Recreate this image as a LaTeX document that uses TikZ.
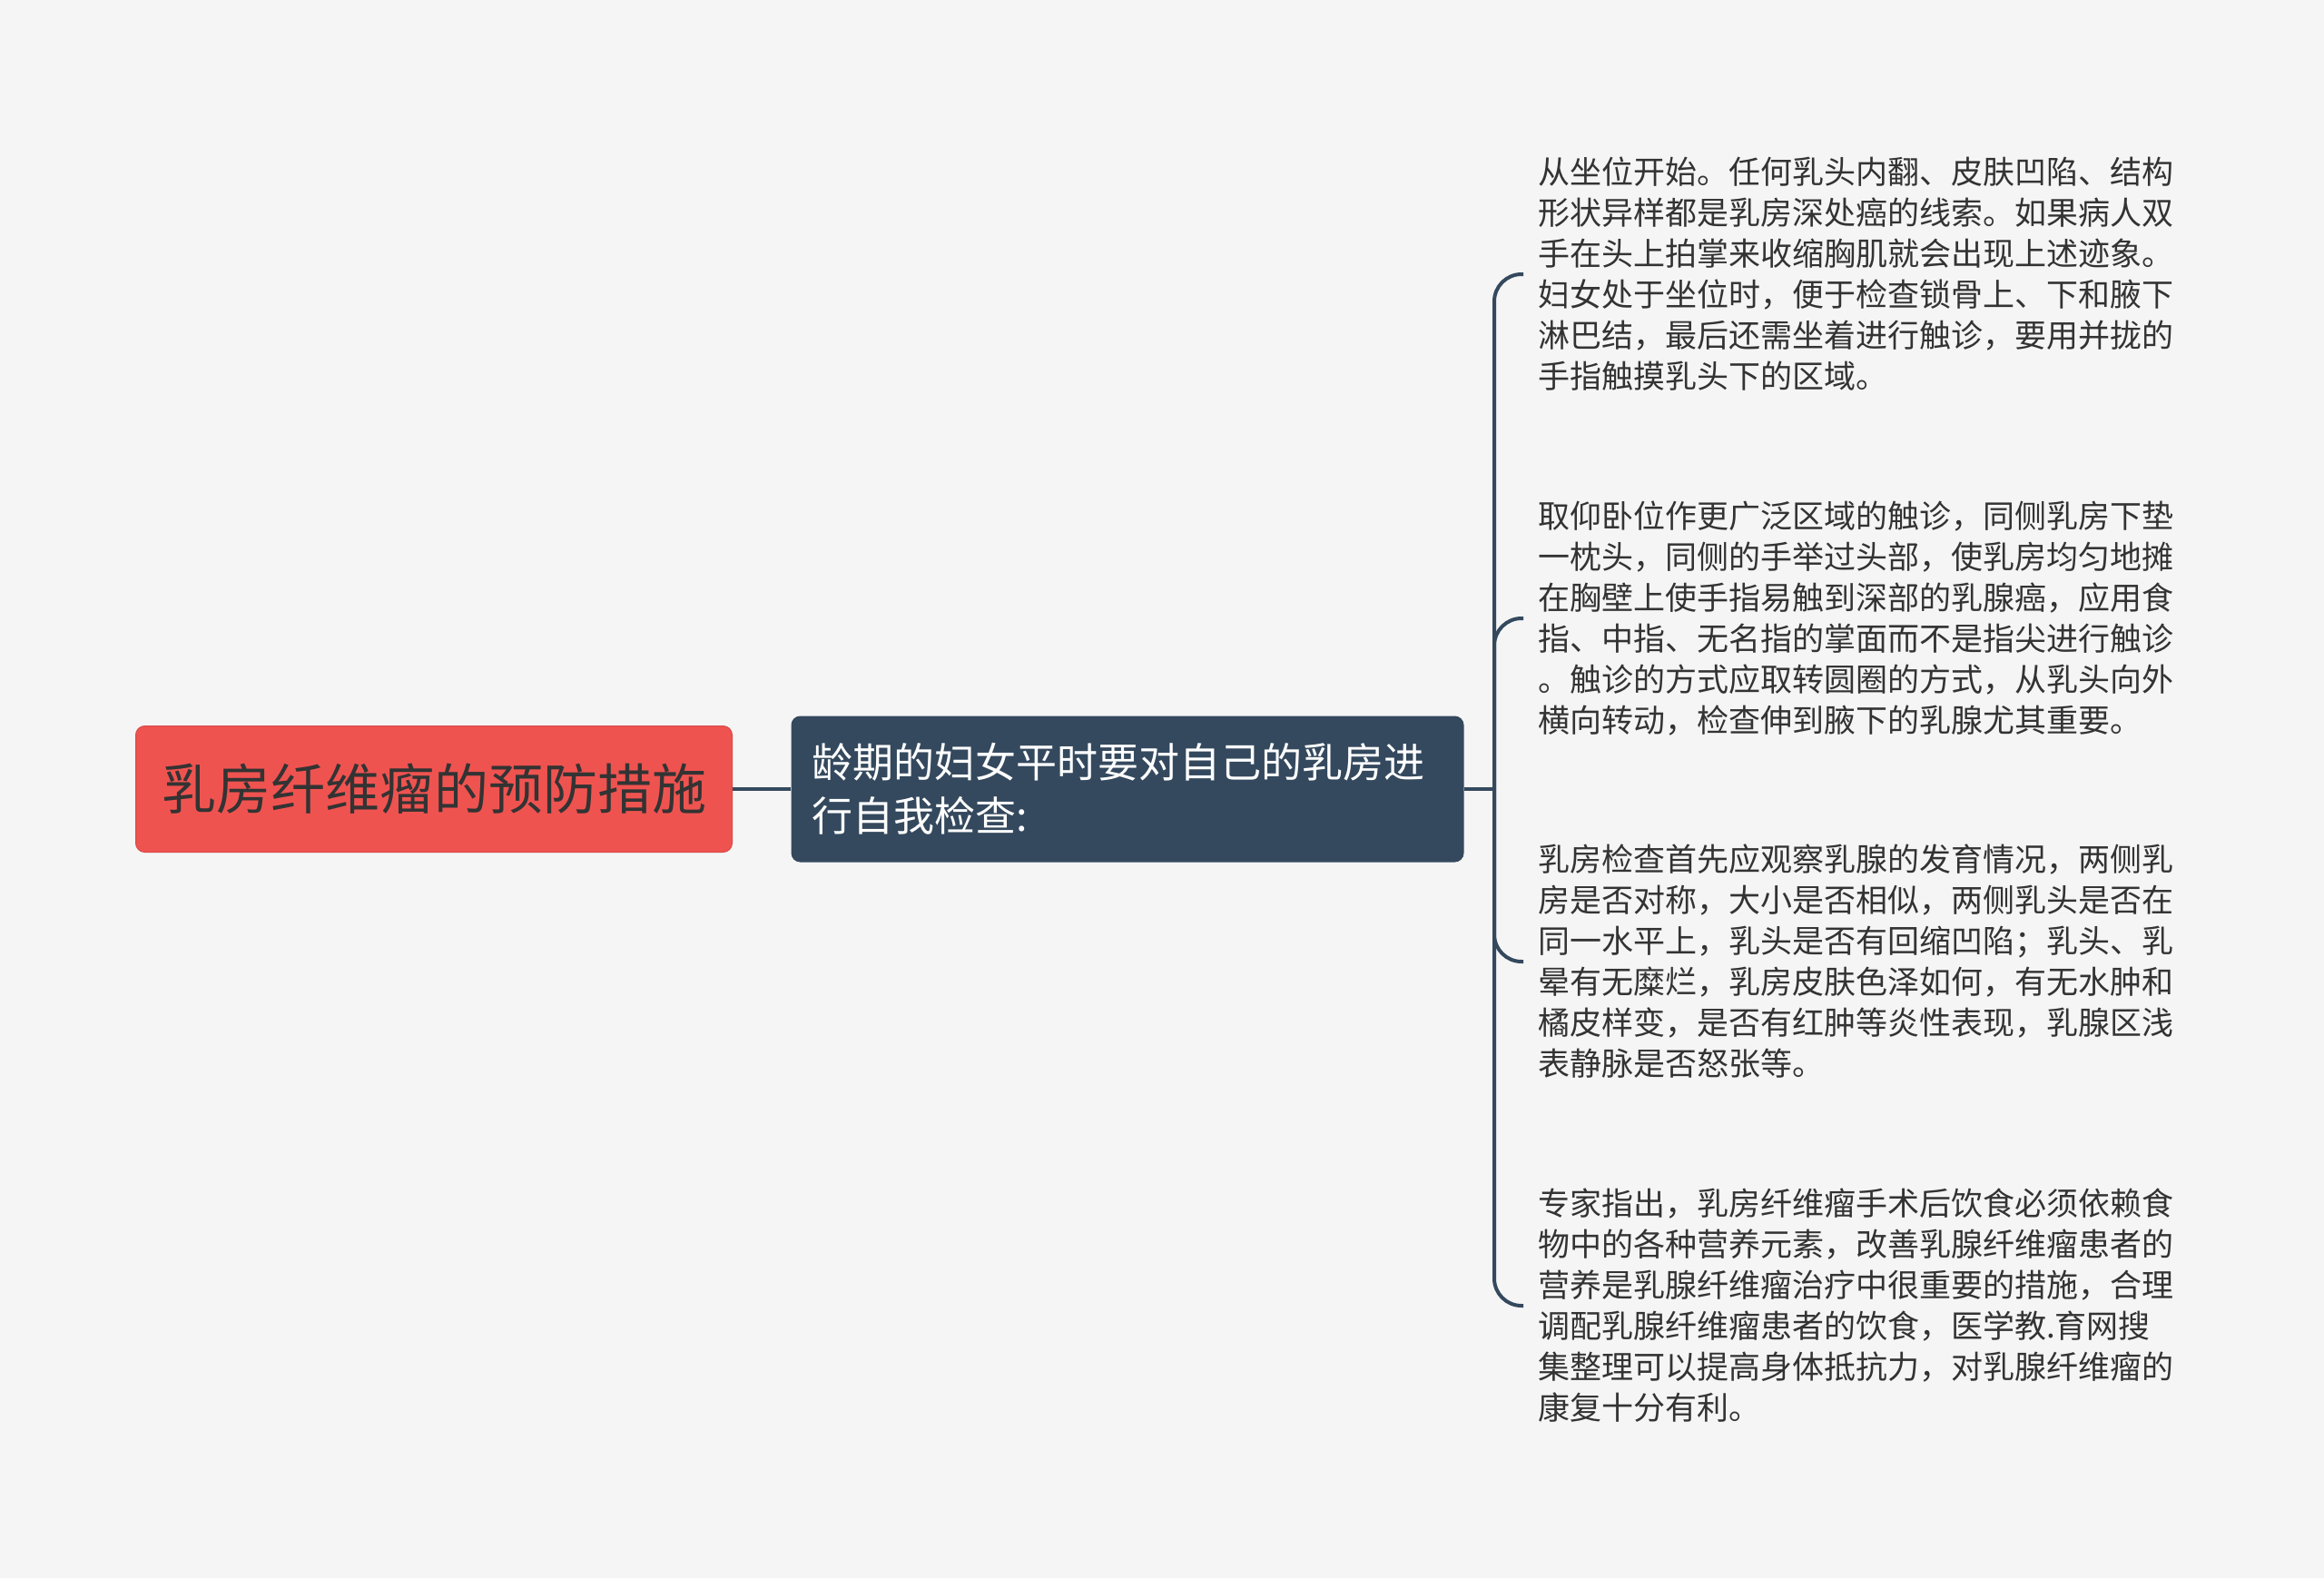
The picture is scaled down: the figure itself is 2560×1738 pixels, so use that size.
\documentclass[tikz,border=0pt]{standalone}
\usepackage{fontspec}
\setmainfont{Noto Sans CJK SC}
\definecolor{bgcol}{HTML}{F5F5F5}
\definecolor{rootcol}{HTML}{EF5350}
\definecolor{slate}{HTML}{34495E}
\definecolor{txt}{HTML}{333333}
\tikzset{
  rootbox/.style={draw=rootcol!90!black, line width=1pt, fill=rootcol, rounded corners=10pt,
    minimum width=657pt, minimum height=139pt, inner sep=0pt, text=txt,
    font=\fontsize{60}{72}\selectfont},
  midbox/.style={fill=slate, rounded corners=10pt, minimum width=741pt, minimum height=161pt,
    text width=695pt, align=left, inner sep=0pt, text=white,
    font=\fontsize{45}{59}\selectfont},
  leaf/.style={anchor=west, align=left, inner xsep=16pt, inner ysep=0pt, text=txt,
    font=\fontsize{35}{45}\selectfont},
  link/.style={draw=slate, line width=4pt},
  branch/.style={draw=slate, line width=4pt, rounded corners=30pt},
}
\begin{document}
\begin{tikzpicture}[x=1pt,y=-1pt]
\fill[bgcol] (0,0) rectangle (2560,1738);
\node[rootbox] (root) at (478,869) {乳房纤维瘤的预防措施};
\node[midbox] (mid) at (1242,869) {龄期的妇女平时要对自己的乳房进\\行自我检查:};
\coordinate (hub) at (1646,869);
\node[leaf] (l1) at (1678,302) {从坐位开始。任何乳头内翻、皮肤凹陷、结构\\形状异样都是乳房深处癌的线索。如果病人双\\手在头上拍掌来收缩胸肌就会出现上述迹象。\\妇女处于坐位时，便于检查锁骨上、下和腋下\\淋巴结，最后还需坐着进行触诊，要用并拢的\\手指触摸乳头下的区域。};
\node[leaf] (l2) at (1678,681) {取仰卧位作更广泛区域的触诊，同侧乳房下垫\\一枕头，同侧的手举过头部，使乳房均匀地摊\\在胸壁上使手指易触到深部的乳腺癌，应用食\\指、中指、无名指的掌面而不是指尖进行触诊\\。触诊的方式应取转圆圈的方式，从乳头向外\\横向转动，检查伸到腋下的乳腺尤其重要。};
\node[leaf] (l3) at (1678,1059) {乳房检查首先应观察乳腺的发育情况，两侧乳\\房是否对称，大小是否相似，两侧乳头是否在\\同一水平上，乳头是否有回缩凹陷；乳头、乳\\晕有无糜烂，乳房皮肤色泽如何，有无水肿和\\橘皮样变，是否有红肿等炎性表现，乳腺区浅\\表静脉是否怒张等。};
\node[leaf] (l4) at (1678,1438) {专家指出，乳房纤维瘤手术后饮食必须依赖食\\物中的各种营养元素，改善乳腺纤维瘤患者的\\营养是乳腺纤维瘤治疗中很重要的措施，合理\\调配乳腺纤维瘤患者的饮食，医学教.育网搜\\集整理可以提高身体抵抗力，对乳腺纤维瘤的\\康复十分有利。};
\draw[link] (root.east) -- (mid.west);
\draw[link] (mid.east) -- (hub);
\foreach \k in {1,2,3,4} {
  \draw[branch] (hub) |- (l\k.west);
}
\end{tikzpicture}
\end{document}
